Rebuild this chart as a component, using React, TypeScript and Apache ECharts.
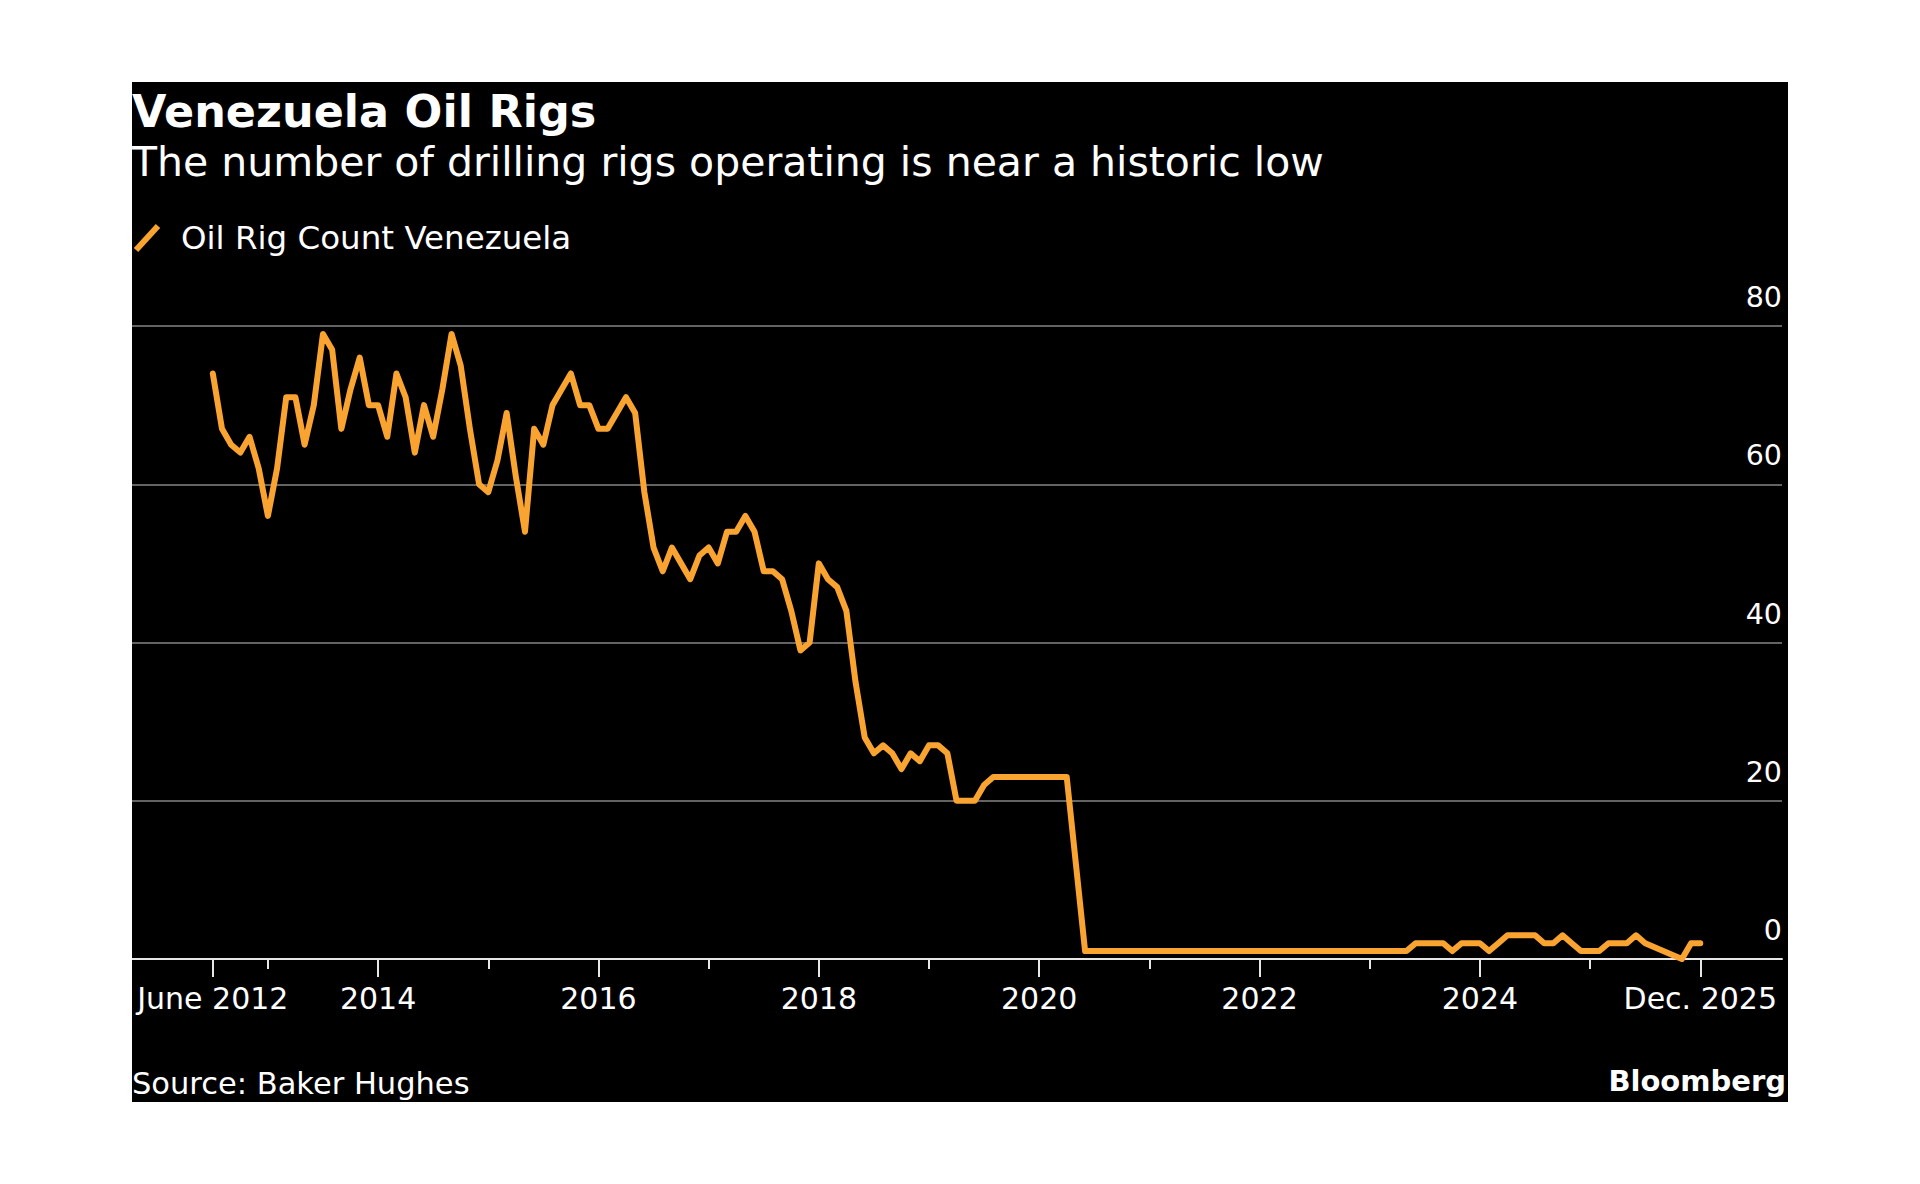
import React, { useEffect, useRef } from "react";
import * as echarts from "echarts";

// Monthly oil rig count, Venezuela, June 2012 (index 0) .. Dec 2025 (index 162)
const rigCounts: (number | null)[] = [
  74, 67, 65, 64, 66, 62, 56, 62, 71, 71,
  65, 70, 79, 77, 67, 72, 76, 70, 70, 66,
  74, 71, 64, 70, 66, 72, 79, 75, 67, 60,
  59, 63, 69, 61, 54, 67, 65, 70, 72, 74,
  70, 70, 67, 67, 69, 71, 69, 59, 52, 49,
  52, 50, 48, 51, 52, 50, 54, 54, 56, 54,
  49, 49, 48, 44, 39, 40, 50, 48, 47, 44,
  35, 28, 26, 27, 26, 24, 26, 25, 27, 27,
  26, 20, 20, 20, 22, 23, 23, 23, 23, 23,
  23, 23, 23, 23, 12, 1, 1, 1, 1, 1,
  1, 1, 1, 1, 1, 1, 1, 1, 1, 1,
  1, 1, 1, 1, 1, 1, 1, 1, 1, 1,
  1, 1, 1, 1, 1, 1, 1, 1, 1, 1,
  1, 2, 2, 2, 2, 1, 2, 2, 2, 1,
  2, 3, 3, 3, 3, 2, 2, 3, 2, 1,
  1, 1, 2, 2, 2, 3, 2, null, null, null,
  0, 2, 2,
];

// x-axis ticks (month index) and their labels
const majorTickMonths = [0, 18, 42, 66, 90, 114, 138, 162];
const majorTickLabels = ["June 2012", "2014", "2016", "2018", "2020", "2022", "2024", "Dec. 2025"];
const minorTickMonths = [6, 30, 54, 78, 102, 126, 150];

const yTicks = [0, 20, 40, 60, 80];

const TITLE = "Venezuela Oil Rigs";
const SUBTITLE = "The number of drilling rigs operating is near a historic low";
const LEGEND = "Oil Rig Count Venezuela";
const SOURCE = "Source: Baker Hughes";
const BRAND = "Bloomberg";

const ORANGE = "#F9A431";
const FONT = '"DejaVu Sans", "Noto Sans", sans-serif';

export default function App() {
  const ref = useRef<HTMLDivElement>(null);

  useEffect(() => {
    if (!ref.current) return;
    const chart = echarts.init(ref.current, undefined, { renderer: "svg" });
    const labelMap: Record<number, string> = {};
    majorTickMonths.forEach((m, i) => (labelMap[m] = majorTickLabels[i]));
    const xMin = -8.8;
    const xMax = 170.9;

    chart.setOption({
      animation: false,
      backgroundColor: "#000",
      textStyle: { fontFamily: FONT },
      grid: { left: 0, right: 6, top: 244, bottom: 143, containLabel: false },
      xAxis: [
        {
          type: "value",
          min: xMin,
          max: xMax,
          position: "bottom",
          axisLine: { show: true, onZero: false, lineStyle: { color: "#e6e6e6", width: 2 } },
          axisTick: {
            show: true,
            customValues: majorTickMonths,
            length: 18,
            lineStyle: { color: "#e6e6e6", width: 2 },
          },
          axisLabel: {
            show: true,
            customValues: majorTickMonths,
            formatter: (v: number) => labelMap[Math.round(v)] ?? "",
            color: "#fff",
            fontSize: 30,
            fontFamily: FONT,
            margin: 24,
          },
          splitLine: { show: false },
        },
        {
          type: "value",
          min: xMin,
          max: xMax,
          position: "bottom",
          axisLine: { show: false },
          axisTick: {
            show: true,
            customValues: minorTickMonths,
            length: 10,
            lineStyle: { color: "#e6e6e6", width: 2 },
          },
          axisLabel: { show: false },
          splitLine: { show: false },
        },
      ],
      yAxis: {
        type: "value",
        position: "right",
        min: yTicks[0],
        max: yTicks[yTicks.length - 1],
        interval: 20,
        axisLine: { show: false },
        axisTick: { show: false },
        splitLine: { show: true, lineStyle: { color: "#636363", width: 2 } },
        axisLabel: {
          inside: true,
          margin: 0,
          align: "right",
          verticalAlign: "bottom",
          padding: [0, 0, 14, 0],
          color: "#fff",
          fontSize: 28.5,
          fontFamily: FONT,
        },
      },
      series: [
        {
          type: "line",
          name: LEGEND,
          xAxisIndex: 0,
          data: rigCounts.map((v, i) => [i, v]),
          showSymbol: false,
          connectNulls: true,
          lineStyle: { color: ORANGE, width: 6, join: "round", cap: "round" },
          itemStyle: { color: ORANGE },
          z: 5,
        },
      ],
      graphic: [
        {
          type: "text",
          x: 0,
          y: 29,
          style: {
            text: TITLE,
            fill: "#fff",
            fontSize: 44.5,
            fontWeight: "bold",
            fontFamily: FONT,
            align: "left",
            verticalAlign: "middle",
          },
        },
        {
          type: "text",
          x: 0,
          y: 80,
          style: {
            text: SUBTITLE,
            fill: "#fff",
            fontSize: 41,
            fontFamily: FONT,
            align: "left",
            verticalAlign: "middle",
          },
        },
        {
          type: "line",
          shape: { x1: 4, y1: 168, x2: 26, y2: 144 },
          style: { stroke: ORANGE, lineWidth: 6 },
        },
        {
          type: "text",
          x: 49,
          y: 156,
          style: {
            text: LEGEND,
            fill: "#fff",
            fontSize: 32.5,
            fontFamily: FONT,
            align: "left",
            verticalAlign: "middle",
          },
        },
        {
          type: "text",
          x: 0,
          y: 1001,
          style: {
            text: SOURCE,
            fill: "#fff",
            fontSize: 30.5,
            fontFamily: FONT,
            align: "left",
            verticalAlign: "middle",
          },
        },
        {
          type: "text",
          x: 1654,
          y: 999,
          style: {
            text: BRAND,
            fill: "#fff",
            fontSize: 29,
            fontWeight: "bold",
            fontFamily: FONT,
            align: "right",
            verticalAlign: "middle",
          },
        },
      ],
    });
    return () => chart.dispose();
  }, []);

  return (
    <div
      style={{
        position: "fixed",
        left: 0,
        top: 0,
        width: 1920,
        height: 1184,
        background: "#fff",
      }}
    >
      <div
        ref={ref}
        style={{
          position: "absolute",
          left: 132,
          top: 82,
          width: 1656,
          height: 1020,
          background: "#000",
        }}
      />
    </div>
  );
}
